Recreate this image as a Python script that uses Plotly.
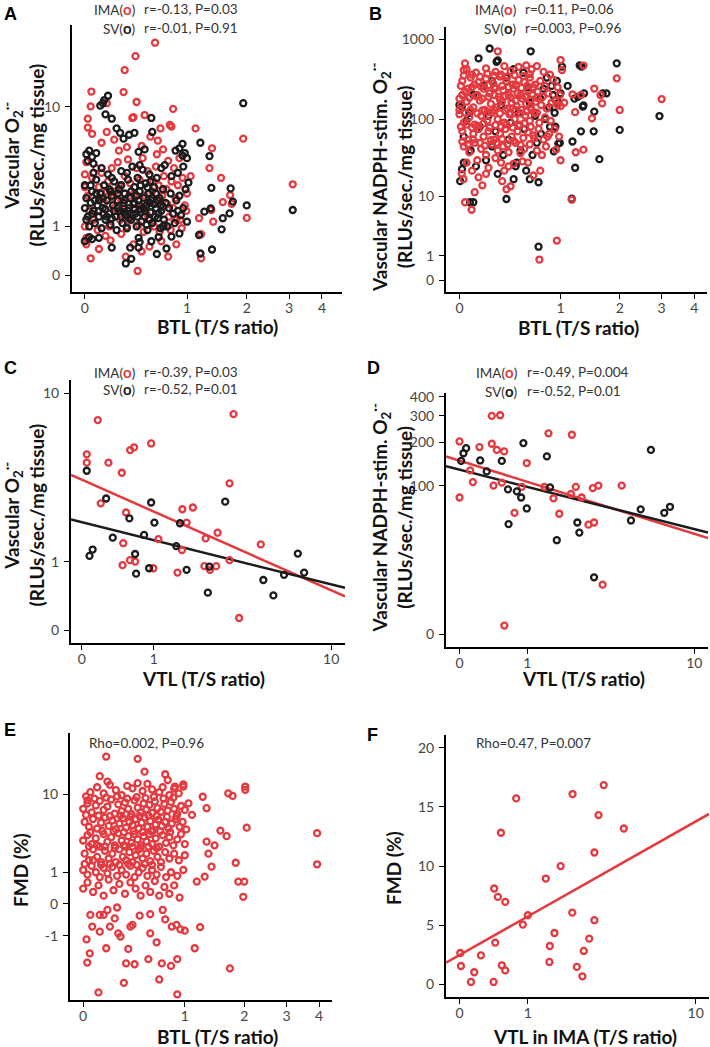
import numpy as np
import plotly.graph_objects as go

W, H = 710, 1047
RED = "#e4393f"
BLK = "#1b1b1b"
FONT = "Lato"

# ---------------- Panel A : BTL vs vascular O2- ----------------
a_ima_x = [0.61,0.41,0.31,0.045,0.30,0.42,0.82,0.04,0.02,0.02,0.38,0.50,0.78,0.67,1.12,1.93,1.37,1.33,1.52,2.0,3.1,1.68,1.55,1.71,1.36,1.17,1.2,1.2,1.39,
           0.16,0.39,0.8,0.16,0.64,0.47,0.12,0.22,0.05,0.26,0.33,0.56,0.7,0.9,0.76,0.63,
           0.04,0.1,0.19,0.32,0.43,0.76,0.39,0.47,0.01,0.15,0.55,0.68,0.86,0.28,
           0.0,0.01,0.0,0.02,0.03,0.0,0.01,
           0.05,0.08,0.1,0.12,0.14,0.17,0.2,0.23,0.25,0.28,0.31,0.34,0.36,0.39,0.42,0.45,0.48,0.5,0.53,0.56,0.59,0.62,0.65,0.68,0.71,0.74,0.77,0.8,0.83,0.85,0.88,0.91,0.94,0.97,1.0,1.05,
           0.06,0.09,0.13,0.18,0.22,0.27,0.33,0.38,0.44,0.49,0.54,0.6,0.66,0.72,0.79,0.86,0.93,0.99,
           0.11,0.16,0.21,0.26,0.3,0.35,0.4,0.46,0.52,0.58,0.63,0.69,0.75,0.82]
a_ima_y = [26.5,21.7,17.6,12.7,12.6,10.8,9.7,10.1,8.3,7.2,8.4,8.8,7.5,7.1,7.1,6.0,5.1,3.6,3.0,1.26,2.65,2.13,1.83,1.76,1.53,1.25,0.79,0.27,1.14,
           10.6,8.5,7.3,6.7,5.8,5.3,5.6,5.9,6.5,4.9,5.2,6.2,5.0,4.3,4.1,4.6,
           0.27,0.45,0.64,0.3,0.06,0.3,0.55,0.4,0.55,0.75,0.5,0.62,0.55,0.8,
           3.2,4.0,2.5,2.1,1.5,1.0,0.7,
           3.0,3.6,2.5,3.3,1.8,2.8,3.6,2.3,4.0,1.9,3.1,4.2,2.7,1.6,3.6,2.9,4.3,2.1,3.4,1.8,2.8,3.7,2.6,1.7,3.1,2.4,1.3,2.8,3.6,2.0,2.6,1.2,3.0,1.7,2.2,3.1,
           1.2,0.9,1.4,1.0,1.6,1.2,1.0,1.3,1.05,0.85,1.25,1.0,0.85,1.05,0.9,1.2,0.95,1.5,
           2.0,2.3,2.0,2.6,1.55,2.1,2.2,1.6,1.4,2.3,1.9,2.1,1.75,1.6]
a_sv_x = [0.17,0.14,0.11,0.13,0.15,0.2,0.24,0.27,0.3,0.35,0.4,0.57,0.58,0.5,0.44,
          0.01,0.03,0.05,0.02,0.08,0.06,
          0.85,0.9,0.94,0.97,1.19,1.33,0.88,0.95,1.0,0.8,0.72,0.68,
          1.36,1.69,1.73,1.67,1.55,1.53,1.25,1.35,1.19,1.37,1.17,2.0,3.1,1.93,1.0,1.02,0.94,
          0.32,0.37,0.36,0.44,0.45,0.44,0.63,0.74,0.8,0.9,0.65,0.57,0.05,0.0,0.1,0.2,0.03,
          0.0,0.02,0.01,0.0,0.03,0.04,0.05,0.06,0.07,0.08,0.09,0.1,0.11,0.12,0.13,0.14,0.15,0.16,0.17,0.18,0.19,0.2,0.21,0.22,0.23,0.24,0.25,0.26,0.27,0.28,0.29,0.3,
          0.31,0.32,0.33,0.34,0.35,0.36,0.37,0.38,0.39,0.4,0.41,0.42,0.43,0.44,0.45,0.46,0.47,0.48,0.49,0.5,0.51,0.52,0.53,0.54,0.55,0.56,0.57,0.58,0.6,0.62,
          0.63,0.64,0.66,0.67,0.68,0.7,0.71,0.73,0.75,0.77,0.79,0.82,0.84,0.86,0.88,0.9,0.92,0.95,0.98,
          0.05,0.1,0.15,0.2,0.25,0.3,0.35,0.4,0.45,0.5,0.55,0.6,0.65,0.7,0.08,0.18,0.28,0.42,0.53,0.62,
          0.01,0.04,0.07,0.1,0.13,0.16,0.19,0.22,0.25,0.28,0.31,0.34,0.37,0.4,0.43,0.46,0.49,0.52,0.55,0.58,0.61,0.64,0.67,0.7,0.06,0.12,0.2,0.33,0.45,0.56]
a_sv_y = [11.9,11.1,10.2,10.6,8.9,8.3,7.1,6.6,6.0,6.4,6.6,8.4,6.7,5.0,4.8,
          4.6,4.9,4.4,4.1,4.7,3.9,
          4.9,5.1,4.5,4.7,5.6,4.46,3.3,3.7,4.3,3.1,3.8,3.6,
          2.47,2.44,1.85,1.41,1.25,0.92,1.47,1.59,0.36,0.44,0.77,1.7,1.53,10.6,1.14,2.74,5.5,
          0.18,0.26,0.48,0.48,0.6,0.7,0.35,0.46,0.73,0.81,0.72,0.62,0.67,0.62,0.7,0.48,0.72,
          1.6,1.3,2.0,2.6,1.0,1.8,2.3,1.5,1.1,2.9,1.7,1.3,2.2,0.95,1.6,2.6,1.2,1.9,3.2,1.4,1.05,2.1,1.7,2.8,1.3,0.9,1.9,2.4,1.5,3.4,1.1,1.8,
          2.2,1.35,0.95,2.9,1.6,2.0,1.2,3.7,1.75,2.5,1.4,1.0,3.0,1.9,2.3,1.55,1.15,3.5,2.0,1.3,2.7,1.7,0.9,2.2,3.2,1.45,1.9,1.1,2.5,1.6,
          3.0,1.25,2.0,0.95,1.5,2.4,1.2,1.8,1.0,1.6,2.2,1.4,1.1,1.9,1.5,2.1,1.35,1.6,2.4,
          1.4,1.9,1.55,1.25,1.6,1.45,1.25,1.55,1.7,1.5,1.2,1.75,1.4,1.65,2.2,2.4,2.6,2.1,2.5,2.2,
          1.2,2.6,1.9,1.5,2.0,1.3,2.3,1.5,2.2,1.3,1.9,1.5,2.3,1.8,1.3,2.6,1.6,1.05,1.8,2.0,1.3,1.9,1.7,1.0,3.3,3.6,3.0,3.3,3.8,2.8]

# ---------------- Panel B : BTL vs NADPH-stimulated O2- ----------------
b_sv_x = [0.23,0.14,0.3,0.63,1.02,1.28,1.94,1.74,1.34,1.51,1.3,2.0,2.94,1.61,1.21,1.17,0.91,0.97,0.72,0.62,0.45,0.38,0.075,0.1,0.005,0.03,0.016,0.72,1.16,
          0.29,1.31,1.67,1.33,1.52,0.47,0.018,0.93,0.99,
          0.03,0.0,0.05,0.08,0.12,0.2,0.25,0.3,0.35,0.4,0.48,0.52,0.58,0.65,0.7,0.75,0.8,0.85,0.9,0.95,1.0,1.1,1.2,1.25,1.35,0.88,0.82,0.6,0.55,0.45,0.38,0.25,0.18,0.1,
          0.07,0.15,0.22,0.28,0.33,0.42,0.5,0.56,0.62,0.68,0.74,0.78,0.86,0.92,0.97]
b_sv_y = [762,575,541,703,452,470,497,210,148,70,70,73,109,31,24,52,39,49,15.5,17,17,9.2,8.3,8.3,16,28,143,1.6,9.3,
          520,452,210,143,124,25,23,80,50,
          60,150,95,40,25,30,45,20,35,55,28,40,22,35,50,65,100,140,200,300,210,260,180,190,210,260,330,250,380,420,330,300,260,200,
          120,80,110,70,150,90,120,75,160,110,180,240,80,120,160]
b_ima_x = [0.039,0.03,0.30,1.0,1.02,1.34,1.94,2.0,3.0,1.52,1.63,1.66,1.48,1.17,1.3,1.21,1.34,1.22,1.0,0.94,1.16,0.95,0.73,0.74,0.66,0.016,0.028,0.039,0.087,0.11,0.17,0.14,0.2,0.34,0.38,0.42,0.33,0.4,0.45,0.52,0.54,0.67,0.81,0.83,
           0.05,0.12,0.2,0.28,0.36,0.42,0.5,0.58,0.64,0.7,0.78,0.86,
           0.02,0.08,0.14,0.2,0.26,0.32,0.38,0.44,0.5,0.56,0.62,0.68,0.74,0.8,0.9,0.96,
           0.0,0.04,0.09,0.13,0.18,0.23,0.27,0.31,0.35,0.4,0.45,0.49,0.54,0.6,0.65,0.71,0.77,0.84,0.93,0.99,1.05,
           0.01,0.05,0.1,0.15,0.19,0.24,0.29,0.34,0.39,0.43,0.48,0.53,0.58,0.63,0.69,0.75,0.82,0.88,0.96,1.0,
           0.0,0.03,0.07,0.11,0.16,0.21,0.25,0.3,0.36,0.41,0.46,0.51,0.57,0.62,0.67,0.73,0.8,0.87,0.92,0.98,
           0.02,0.06,0.1,0.14,0.18,0.22,0.27,0.32,0.37,0.43,0.49,0.55,0.6,0.66,0.72,0.78,0.85,
           0.03,0.07,0.11,0.16,0.2,0.25,0.3,0.35,0.4,0.47,0.56,0.62,0.7,0.76,
           0.05,0.09,0.13,0.22,0.28,0.36,0.6,
           0.03,0.09,0.15,0.21,0.27,0.33,0.39,0.46,0.55,0.62,
           0.01,0.06,0.11,0.16,0.22,0.28,0.34,0.4,0.47,0.53,0.59,0.66,
           0.02,0.07,0.12,0.17,0.22,0.27,0.32,0.37,0.42,0.47,0.52,0.57,0.63,0.7,
           0.0,0.04,0.08,0.13,0.17,0.22,0.27,0.32,0.37,0.42,0.47,0.52,0.58,0.64,0.7,
           0.01,0.05,0.09,0.13,0.18,0.23,0.28,0.33,0.38,0.44,0.5,0.56,0.63,
           0.02,0.06,0.1,0.15,0.19,0.24,0.29,0.34,0.39,0.45,0.52]
b_ima_y = [497,411,703,547,411,467,323,130,178,241,200,157,102,203,200,122,41,38,30,41,9,2.1,0.8,22,19,20,17,8.3,6.5,11.4,14.1,18,20,16,12.5,13.7,28,25,27,37,29,57,45,60,
           420,380,430,390,460,400,450,470,420,460,390,360,
           300,330,290,320,280,340,300,270,310,290,330,270,300,260,310,250,
           180,220,250,200,240,210,250,190,230,200,240,210,180,230,200,220,190,210,170,200,160,
           150,165,140,170,130,155,140,165,135,160,145,130,155,140,165,150,135,160,150,145,
           115,90,105,85,110,95,120,100,90,115,100,85,110,95,120,90,105,95,75,60,
           70,55,65,75,60,70,55,65,75,60,70,58,68,62,75,55,65,
           45,38,50,42,35,48,40,45,38,50,42,48,40,35,
           28,22,30,24,32,22,28,
           350,360,340,370,350,360,340,355,345,365,
           260,240,270,255,265,245,260,250,265,245,260,250,
           200,185,195,180,190,200,175,195,185,170,200,190,175,185,
           130,120,130,118,128,122,130,118,128,120,130,118,125,130,120,
           80,85,78,82,88,78,84,80,86,78,82,88,80,
           52,48,55,50,46,54,50,56,48,53,47]

# ---------------- Panel C : VTL vs vascular O2- ----------------
c_ima_x = [0.049,0.049,0.166,0.292,0.469,0.2,0.592,0.654,0.948,0.531,0.49,0.48,0.59,0.67,0.99,1.09,1.63,1.91,1.74,1.62,1.51,2.29,2.69,2.25,2.43,2.64,3.14,3.3,3.14,3.54,4.59]
c_ima_y = [4.93,4.45,7.39,4.45,3.92,2.61,5.19,5.36,5.62,2.29,1.41,0.93,1.03,1.0,0.87,1.51,2.4,2.46,1.97,1.25,0.79,1.53,1.68,0.91,0.84,0.91,3.42,7.91,1.03,0.13,1.38]
c_sv_x = [0.049,0.264,0.077,0.11,0.347,0.58,0.67,0.686,0.82,0.948,0.91,1.01,1.48,1.57,1.74,2.36,2.41,2.97,4.73,5.31,5.99,6.98,7.48]
c_sv_y = [4.02,2.79,1.12,1.26,1.55,2.1,1.16,0.77,1.62,2.64,0.87,1.97,1.34,1.95,0.84,0.46,0.90,2.67,0.66,0.42,0.75,1.17,0.79]

# ---------------- Panel D : VTL vs NADPH-stimulated O2- ----------------
d_ima_x = [0.0,0.0,0.115,0.146,0.226,0.39,0.514,0.39,0.464,0.578,0.415,0.54,0.753,0.888,0.987,0.58,1.38,1.48,1.61,1.77,2.15,2.28,2.12,2.48,2.73,2.95,2.9,3.13,3.31,4.24]
d_ima_y = [202,82,128,106,185,299,302,195,177,173,100,105,63,98,144,1.7,98,229,81,62,224,98,87,82,51,53,96,100,13.7,100]
d_sv_x = [0.017,0.041,0.07,0.235,0.32,0.54,0.65,0.64,0.795,0.876,0.92,0.987,1.44,1.52,1.7,2.33,2.4,2.95,4.76,5.36,6.06,7.09,7.58]
d_sv_y = [149,168,182,150,126,149,51.5,94,91,82,197,68,160,97,38,53,44,16.7,55,67,177,63,70]

# ---------------- Panel E : BTL vs FMD ----------------
e_x = [0.17,0.45,0.12,0.52,0.75,0.78,0.87,0.98,1.26,1.32,1.69,1.77,2.02,2.02,2.05,1.55,1.66,1.32,1.45,1.35,1.4,1.83,1.17,1.29,1.88,2.0,1.98,1.22,1.14,1.72,3.93,3.93,
       0.83,1.0,0.94,0.89,0.9,0.82,0.71,0.68,0.56,0.65,0.58,0.9,0.42,0.34,0.36,0.32,0.17,0.11,0.028,0.046,0.023,0.12,0.064,0.05,0.12,0.15,0.2,0.24,0.18,0.26,0.38,0.4,0.27,0.29,0.47,0.58,0.72,0.75,
       0.02,0.05,0.1,0.15,0.2,0.25,0.3,0.35,0.4,0.45,0.5,0.55,0.6,0.68,0.72,0.8,0.86,0.92,0.98,0.18,0.03,
       0.0,0.03,0.06,0.09,0.12,0.15,0.18,0.21,0.24,0.27,0.3,0.33,0.36,0.39,0.42,0.45,0.48,0.51,0.54,0.57,0.6,0.63,0.66,0.7,0.74,0.78,0.82,0.86,0.9,0.95,1.0,1.05,1.1,
       0.01,0.04,0.07,0.1,0.13,0.16,0.19,0.22,0.25,0.28,0.31,0.34,0.37,0.4,0.43,0.46,0.49,0.52,0.55,0.58,0.61,0.64,0.67,0.71,0.75,0.79,0.83,0.88,0.93,0.97,1.02,
       0.0,0.03,0.06,0.09,0.12,0.15,0.18,0.21,0.24,0.27,0.3,0.33,0.36,0.39,0.42,0.45,0.48,0.51,0.54,0.57,0.6,0.64,0.68,0.72,0.76,0.8,0.85,0.9,0.95,1.0,
       0.01,0.04,0.07,0.1,0.13,0.16,0.19,0.22,0.25,0.28,0.31,0.34,0.37,0.4,0.43,0.46,0.5,0.54,0.58,0.62,0.66,0.7,0.75,0.8,0.86,0.92,1.0,
       0.0,0.03,0.06,0.09,0.12,0.15,0.18,0.22,0.26,0.3,0.34,0.38,0.42,0.46,0.5,0.55,0.6,0.65,0.7,0.76,0.82,0.9,0.98,
       0.0,0.03,0.07,0.11,0.15,0.19,0.23,0.28,0.33,0.38,0.43,0.48,0.53,0.58,0.63,0.68,0.74,0.8,0.86,0.93,
       0.02,0.05,0.08,0.11,0.14,0.17,0.2,0.23,0.26,0.29,0.32,0.35,0.38,0.41,0.44,0.47,0.5,0.53,0.56,0.59,0.62,0.65,0.69,0.73,0.77,0.81,0.85,0.89,
       0.01,0.04,0.07,0.1,0.13,0.16,0.2,0.24,0.28,0.32,0.36,0.4,0.44,0.48,0.52,0.56,0.6,0.65]
e_y = [24,22.8,15.3,17,16,14,12,12.6,9.4,7.1,10.2,9.6,12,11.1,4.3,3.97,3.4,2.9,2.6,2.0,1.26,1.46,0.63,0.82,0.63,0.63,0.17,-0.66,-1.63,-3.08,3.7,1.38,
       -0.64,-0.79,-0.74,-0.58,-2.34,-2.87,-2.66,-4.2,-2.34,-1.31,-0.9,-6.2,-2.73,-2.66,-1.67,-4.6,-1.63,-5.9,-2.6,-1.94,-1.17,-0.83,-0.64,-0.27,-0.27,-0.27,-0.64,-0.37,-0.14,-0.08,-0.64,-0.58,-0.9,-1.04,-0.29,-0.25,-0.14,-0.4,
       9.5,10.5,11.8,10.2,12.5,11.0,9.8,12.2,11.5,13.0,10.8,12.8,11.2,10.5,11.8,9.8,11.4,10.2,12.0,13.5,8.6,
       7.0,8.0,6.4,7.6,8.5,6.8,7.4,8.8,6.2,7.8,6.6,8.2,7.0,6.1,8.6,7.2,6.4,8.0,6.9,7.7,6.3,8.4,7.1,6.5,7.9,6.7,8.3,7.0,6.2,7.5,6.8,8.0,6.0,
       5.0,4.4,5.4,4.2,4.9,5.6,4.5,5.2,4.1,4.8,5.5,4.3,5.0,4.6,5.4,4.2,4.9,5.6,4.4,5.1,4.0,4.7,5.3,4.5,5.0,4.2,4.8,5.4,4.4,5.0,4.1,
       3.0,3.5,2.7,3.2,2.5,3.6,2.9,3.3,2.6,3.7,3.0,2.5,3.4,2.8,3.6,3.1,2.6,3.4,2.9,3.6,2.7,3.2,2.5,3.5,2.8,3.3,2.6,3.1,3.6,2.7,
       2.0,1.6,2.3,1.8,1.5,2.2,1.7,2.0,1.5,2.3,1.8,1.6,2.1,1.5,1.9,2.3,1.7,2.0,1.55,2.2,1.8,1.5,2.1,1.7,2.0,1.6,1.9,
       1.1,0.9,1.3,1.0,0.8,1.2,0.95,1.25,0.85,1.1,0.9,1.3,0.8,1.0,1.2,0.85,1.1,0.9,1.25,0.8,1.0,0.85,1.1,
       0.4,0.6,0.3,0.5,0.2,0.7,0.35,0.55,0.25,0.6,0.4,0.2,0.5,0.3,0.65,0.2,0.45,0.25,0.5,0.15,
       6.0,3.8,9.0,5.9,3.9,9.2,5.8,3.9,9.5,5.9,3.8,9.0,5.7,3.9,9.3,5.8,3.8,9.1,5.9,3.9,9.4,5.8,3.9,9.0,5.7,3.8,9.2,5.8,
       1.4,2.5,1.6,2.6,1.35,2.5,1.4,2.4,1.35,2.6,1.4,2.5,1.35,2.4,1.4,2.5,1.35,2.4]

# ---------------- Panel F : VTL in IMA vs FMD ----------------
f_x = [0.0068,0.0136,0.122,0.16,0.242,0.412,0.421,0.475,0.589,0.436,0.521,0.536,0.589,0.777,0.901,1.0,1.40,1.49,1.5,1.62,1.79,2.15,2.14,2.29,2.48,2.53,2.73,2.93,2.93,3.1,3.32,4.3]
f_y = [2.65,1.55,0.2,1.02,2.45,0.2,8.1,7.39,6.97,3.53,12.81,1.61,1.18,15.71,5.05,5.84,8.94,1.89,3.24,4.34,9.99,16.08,6.06,1.47,0.68,2.82,3.86,11.14,5.42,14.3,16.84,13.17]

# tick labels
t_btl = [0, 1, 2, 3, 4]
t_vtl = [0, 1, 10]
t_a_y = [0, 1, 10]
t_b_y = [0, 1, 10, 100, 1000]
t_d_y = [0, 100, 200, 300, 400]
t_e_y = [-1, 0, 1, 10]
t_f_y = [0, 5, 10, 15, 20]

# ---------------- scale transforms (axes are log10(v+1)-type) ----------------
def lg1(v):
    return np.log10(np.asarray(v, float) + 1)

def lg13(v):
    return np.log10(np.asarray(v, float) + 13)

def slg(v):
    v = np.asarray(v, float)
    return np.sign(v) * np.log10(np.abs(v) + 1)

def lin(v):
    return np.asarray(v, float)

def px(x):
    return x / W

def py(y):
    return 1 - y / H

fig = go.Figure()

panels = {
    "A": ((72, 342), (25, 292), (-0.038, 0.758), (-0.105, 1.549), t_btl, t_a_y, lg1, lg1),
    "B": ((446, 707), (27, 292), (-0.040, 0.737), (-0.149, 3.15), t_btl, t_b_y, lg1, lg1),
    "C": ((71, 345), (380, 643), (-0.045, 1.099), (-0.057, 1.10), t_vtl, t_a_y, lg1, lg1),
    "D": ((446, 708), (393, 647), (-0.060, 1.102), (1.032, 2.639), t_vtl, t_d_y, lg1, lg13),
    "E": ((70, 332), (733, 1000), (-0.039, 0.737), (-0.911, 1.622), t_btl, t_e_y, lg1, slg),
    "F": ((446, 709), (735, 997), (-0.060, 1.10), (-1.07, 21.07), t_vtl, t_f_y, lg1, lin),
}

axis_common = dict(showgrid=False, zeroline=False, showline=True, linewidth=2, linecolor="black",
                   ticks="outside", ticklen=5, tickwidth=1.2, tickcolor="black", automargin=False,
                   tickfont=dict(family=FONT, size=14, color="#444444"))

layout = {}
idx = {}
for i, (name, p) in enumerate(panels.items(), start=1):
    (x0, x1), (yt, yb), xr, yr, xt, ytk, xf, yf = p
    sx = "" if i == 1 else str(i)
    idx[name] = sx
    layout["xaxis" + sx] = dict(domain=[px(x0), px(x1)], range=list(xr), anchor="y" + sx, ticklabelstandoff=-3,
                                tickvals=list(xf(xt)), ticktext=[str(v) for v in xt], **axis_common)
    layout["yaxis" + sx] = dict(domain=[py(yb), py(yt)], range=list(yr), anchor="x" + sx, ticklabelstandoff=2,
                                tickvals=list(yf(ytk)), ticktext=[str(v) for v in ytk], **axis_common)

def scatter(name, xs, ys, color):
    p = panels[name]
    xf, yf = p[6], p[7]
    sx = idx[name]
    fig.add_trace(go.Scatter(x=xf(xs), y=yf(ys), mode="markers", xaxis="x" + sx, yaxis="y" + sx,
                             marker=dict(symbol="circle-open", size=6, color=color, line=dict(width=2.3, color=color)),
                             showlegend=False, hoverinfo="skip"))

def fitline(name, xs, ys, color):
    p = panels[name]
    xf, yf = p[6], p[7]
    sx = idx[name]
    tx, ty = xf(xs), yf(ys)
    k, b = np.polyfit(tx, ty, 1)
    xr = np.array(p[2])
    fig.add_trace(go.Scatter(x=xr, y=k * xr + b, mode="lines", xaxis="x" + sx, yaxis="y" + sx,
                             line=dict(color=color, width=2.5), showlegend=False, hoverinfo="skip"))

scatter("A", a_ima_x, a_ima_y, RED)
scatter("A", a_sv_x, a_sv_y, BLK)
scatter("B", b_sv_x, b_sv_y, BLK)
scatter("B", b_ima_x, b_ima_y, RED)
fitline("C", c_ima_x, c_ima_y, RED)
fitline("C", c_sv_x, c_sv_y, BLK)
scatter("C", c_ima_x, c_ima_y, RED)
scatter("C", c_sv_x, c_sv_y, BLK)
fitline("D", d_ima_x, d_ima_y, RED)
fitline("D", d_sv_x, d_sv_y, BLK)
scatter("D", d_ima_x, d_ima_y, RED)
scatter("D", d_sv_x, d_sv_y, BLK)
scatter("E", e_x, e_y, RED)
fitline("F", f_x, f_y, RED)
scatter("F", f_x, f_y, RED)

ann = []

def text(x, y, s, size=13.5, bold=False, xanchor="center", angle=0, color="#333333", family=FONT):
    ann.append(dict(x=px(x), y=py(y), xref="paper", yref="paper", text=("<b>%s</b>" % s) if bold else s,
                    showarrow=False, xanchor=xanchor, yanchor="middle", textangle=angle,
                    font=dict(family=family, size=size, color=color)))

for L, (x, y) in {"A": (10, 14), "B": (375, 14), "C": (10, 368), "D": (373, 368), "E": (10, 730), "F": (372, 735)}.items():
    text(x, y, L, size=18, bold=True, color="black", family="Liberation Sans")

def ring(c):
    return "(<span style='color:%s;font-size:15px'><b>o</b></span>)" % c

stats = {
    "A": (137, 142, 9.5, 27.5, "r=-0.13, P=0.03", "r=-0.01, P=0.91"),
    "B": (518, 523, 9.5, 27.5, "r=0.11, P=0.06", "r=0.003, P=0.96"),
    "C": (137, 142, 371.5, 389.5, "r=-0.39, P=0.03", "r=-0.52, P=0.01"),
    "D": (519, 525, 372.5, 390.5, "r=-0.49, P=0.004", "r=-0.52, P=0.01"),
}
for k, (xp, xs, y1, y2, s1, s2) in stats.items():
    text(xp, y1, "IMA" + ring(RED), xanchor="right")
    text(xs, y1, s1, xanchor="left")
    text(xp, y2, "SV" + ring(BLK), xanchor="right")
    text(xs, y2, s2, xanchor="left")
text(87, 743, "Rho=0.002, P=0.96", xanchor="left")
text(474, 743, "Rho=0.47, P=0.007", xanchor="left")

O2 = "O<sub>2</sub><sup>·-</sup>"
TS = 19
text(217, 326, "BTL (T/S ratio)", size=TS, bold=True, color="#111111")
text(578, 328, "BTL (T/S ratio)", size=TS, bold=True, color="#111111")
text(203, 678, "VTL (T/S ratio)", size=TS, bold=True, color="#111111")
text(583, 678, "VTL (T/S ratio)", size=TS, bold=True, color="#111111")
text(218, 1036, "BTL (T/S ratio)", size=TS, bold=True, color="#111111")
text(585, 1036, "VTL in IMA (T/S ratio)", size=TS, bold=True, color="#111111")
text(23.5, 155, "Vascular " + O2 + "<br>(RLUs/sec./mg tissue)", size=TS, bold=True, angle=-90, color="#111111")
text(391, 178, "Vascular NADPH-stim. " + O2 + "<br>(RLUs/sec./mg tissue)", size=TS, bold=True, angle=-90, color="#111111")
text(23.5, 515, "Vascular " + O2 + "<br>(RLUs/sec./mg tissue)", size=TS, bold=True, angle=-90, color="#111111")
text(391.5, 518, "Vascular NADPH-stim. " + O2 + "<br>(RLUs/sec./mg tissue)", size=TS, bold=True, angle=-90, color="#111111")
text(20, 870, "FMD (%)", size=TS, bold=True, angle=-90, color="#111111")
text(393, 868, "FMD (%)", size=TS, bold=True, angle=-90, color="#111111")

fig.update_layout(width=W, height=H, margin=dict(l=0, r=0, t=0, b=0, pad=0), plot_bgcolor="white",
                  paper_bgcolor="white", annotations=ann, **layout)
fig.write_html("out.html", config={"displayModeBar": False},
               post_script="document.body.style.margin='0px';document.body.style.overflow='hidden';")
